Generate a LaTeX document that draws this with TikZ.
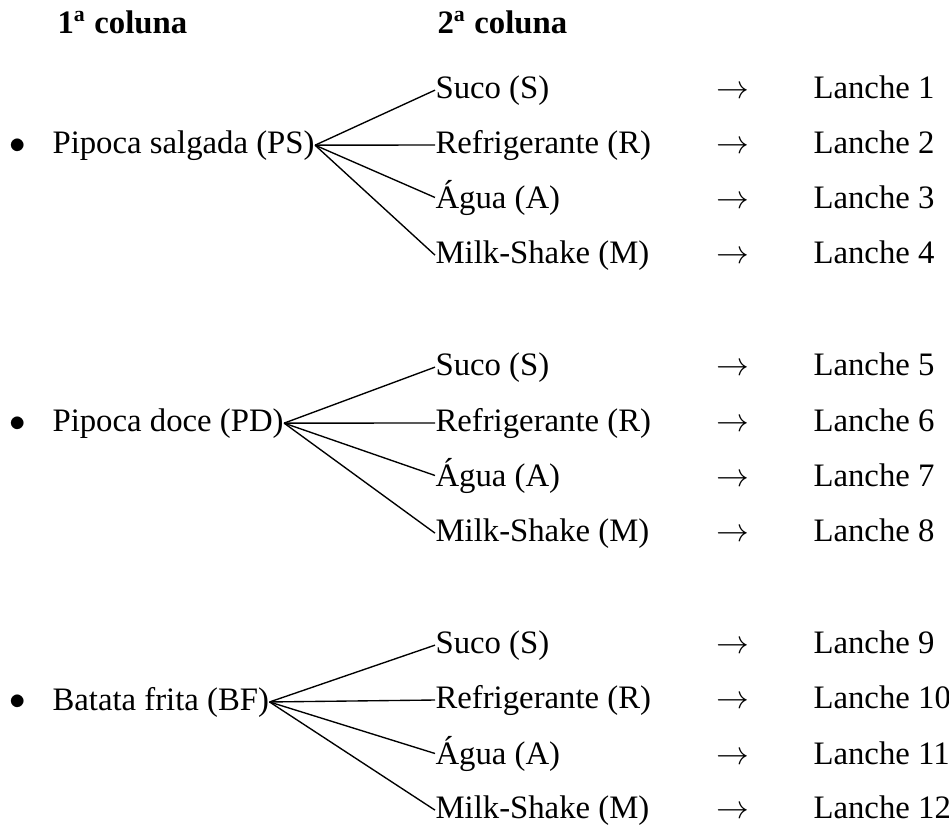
\documentclass[tikz,border=0pt]{standalone}
\usepackage{fontspec}
\setmainfont{Liberation Serif}

\tikzset{
  item/.style={inner sep=0pt, anchor=base west, font=\fontsize{12}{14}\selectfont},
  head/.style={item, font=\fontsize{12}{14}\selectfont\bfseries},
  branch/.style={line width=0.5pt},
}

\begin{document}
\begin{tikzpicture}[x=0.3664pt, y=-0.3664pt]
    \useasboundingbox (0,0) rectangle (949,825);

    \node [head] (col1) at (57,33) {1\textsuperscript{a} coluna};
    \node [head] (col2) at (437,33) {2\textsuperscript{a} coluna};

    % pipoca salgada
    \node [item] (dot1) at (9,153) {$\bullet$};
    \node [item] (ps) at (52,153) {Pipoca salgada (PS)};
    \node [item] (ps-s) at (435,98) {Suco (S)};
    \node [item] (ps-r) at (435,153) {Refrigerante (R)};
    \node [item] (ps-a) at (435,208) {Água (A)};
    \node [item] (ps-m) at (435,263) {Milk-Shake (M)};
    \node [item] (ar1) at (716,98) {$\rightarrow$};
    \node [item] (ar2) at (716,153) {$\rightarrow$};
    \node [item] (ar3) at (716,208) {$\rightarrow$};
    \node [item] (ar4) at (716,263) {$\rightarrow$};
    \node [item] (l1) at (813,98) {Lanche 1};
    \node [item] (l2) at (813,153) {Lanche 2};
    \node [item] (l3) at (813,208) {Lanche 3};
    \node [item] (l4) at (813,263) {Lanche 4};

    % pipoca doce
    \node [item] (dot2) at (9,431) {$\bullet$};
    \node [item] (pd) at (52,431) {Pipoca doce (PD)};
    \node [item] (pd-s) at (435,375) {Suco (S)};
    \node [item] (pd-r) at (435,431) {Refrigerante (R)};
    \node [item] (pd-a) at (435,486) {Água (A)};
    \node [item] (pd-m) at (435,541) {Milk-Shake (M)};
    \node [item] (ar5) at (716,375) {$\rightarrow$};
    \node [item] (ar6) at (716,431) {$\rightarrow$};
    \node [item] (ar7) at (716,486) {$\rightarrow$};
    \node [item] (ar8) at (716,541) {$\rightarrow$};
    \node [item] (l5) at (813,375) {Lanche 5};
    \node [item] (l6) at (813,431) {Lanche 6};
    \node [item] (l7) at (813,486) {Lanche 7};
    \node [item] (l8) at (813,541) {Lanche 8};

    % batata frita
    \node [item] (dot3) at (9,709) {$\bullet$};
    \node [item] (bf) at (52,710) {Batata frita (BF)};
    \node [item] (bf-s) at (435,653) {Suco (S)};
    \node [item] (bf-r) at (435,708) {Refrigerante (R)};
    \node [item] (bf-a) at (435,764) {Água (A)};
    \node [item] (bf-m) at (435,818) {Milk-Shake (M)};
    \node [item] (ar9) at (716,653) {$\rightarrow$};
    \node [item] (ar10) at (716,708) {$\rightarrow$};
    \node [item] (ar11) at (716,764) {$\rightarrow$};
    \node [item] (ar12) at (716,818) {$\rightarrow$};
    \node [item] (l9) at (813,653) {Lanche 9};
    \node [item] (l10) at (813,708) {Lanche 10};
    \node [item] (l11) at (813,764) {Lanche 11};
    \node [item] (l12) at (813,818) {Lanche 12};

    \draw [branch] (ps.east) -- (ps-s.west);
    \draw [branch] (ps.east) -- (ps-r.west);
    \draw [branch] (ps.east) -- (ps-a.west);
    \draw [branch] (ps.east) -- (ps-m.west);
    \draw [branch] (pd.east) -- (pd-s.west);
    \draw [branch] (pd.east) -- (pd-r.west);
    \draw [branch] (pd.east) -- (pd-a.west);
    \draw [branch] (pd.east) -- (pd-m.west);
    \draw [branch] (bf.east) -- (bf-s.west);
    \draw [branch] (bf.east) -- (bf-r.west);
    \draw [branch] (bf.east) -- (bf-a.west);
    \draw [branch] (bf.east) -- (bf-m.west);
\end{tikzpicture}
\end{document}
